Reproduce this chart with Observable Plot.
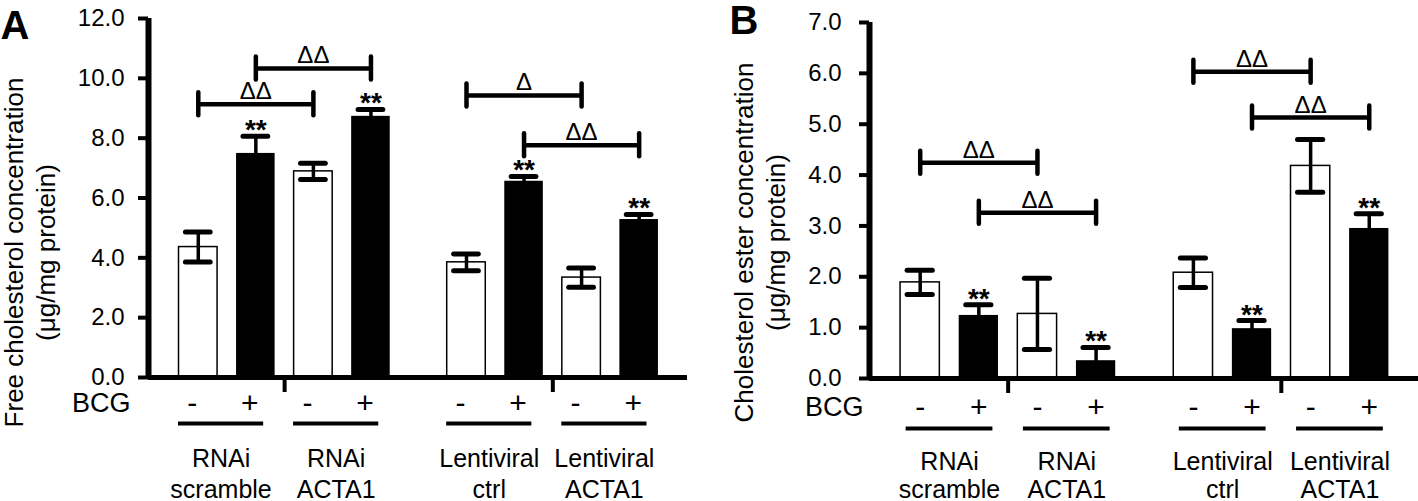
<!DOCTYPE html>
<html>
<head>
<meta charset="utf-8">
<script src="https://cdn.jsdelivr.net/npm/d3@7"></script>
<script src="https://cdn.jsdelivr.net/npm/@observablehq/plot@0.6"></script>
<style>
  body { margin: 0; background: #fff; }
  #wrap { display: flex; width: 1418px; height: 501px; }
  #wrap svg { font-family: "Liberation Sans", Arial, Helvetica, sans-serif; overflow: visible; }
</style>
</head>
<body>
<div id="wrap"></div>
<script>
// ---------- data ----------
const groupLabels = ["RNAi\nscramble", "RNAi\nACTA1", "Lentiviral\nctrl", "Lentiviral\nACTA1"];
const bcgSigns = ["-", "+", "-", "+", "-", "+", "-", "+"];
const stars = ["", "**", "", "**", "", "**", "", "**"];

// Panel A: free cholesterol (µg/mg protein)
const freeMean = [4.36, 7.49, 6.89, 8.73, 3.85, 6.56, 3.34, 5.28];
const freeErr  = [0.50, 0.57, 0.27, 0.23, 0.28, 0.16, 0.32, 0.17];
const freeBrFrom  = [0, 1, 4, 5];
const freeBrTo    = [2, 3, 6, 7];
const freeBrY     = [9.13, 10.33, 9.43, 7.76];
const freeBrLabel = ["ΔΔ", "ΔΔ", "Δ", "ΔΔ"];

// Panel B: cholesterol ester (µg/mg protein)
const esterMean = [1.89, 1.24, 1.27, 0.35, 2.08, 0.98, 4.18, 2.95];
const esterErr  = [0.24, 0.21, 0.70, 0.26, 0.29, 0.16, 0.52, 0.29];
const esterBrFrom  = [0, 1, 4, 5];
const esterBrTo    = [2, 3, 6, 7];
const esterBrY     = [4.24, 3.26, 6.03, 5.13];
const esterBrLabel = ["ΔΔ", "ΔΔ", "ΔΔ", "ΔΔ"];

// ---------- layout helpers ----------
const GAP = 0.66;      // extra space between the RNAi and Lentiviral halves
const HALF = 0.335;    // bar half width
const CAP = 0.215;     // error cap half width
const pos = i => i + (i >= 4 ? GAP : 0);

function panel(cfg) {
  const H = 501;
  const innerH = H - cfg.marginTop - cfg.marginBottom;
  const u = cfg.yMax / innerH; // data units per pixel
  const idx = d3.range(cfg.mean.length);
  const white = idx.filter(i => i % 2 === 0);
  const black = idx.filter(i => i % 2 === 1);
  const starIdx = idx.filter(i => stars[i]);
  const br = d3.range(cfg.brFrom.length);
  const dividers = [(pos(1) + pos(2)) / 2, (pos(5) + pos(6)) / 2];
  const gIdx = d3.range(groupLabels.length);
  const gCenter = g => (pos(2 * g) + pos(2 * g + 1)) / 2;
  const xDom = [-0.865, 8.5];

  return Plot.plot({
    width: 709, height: H,
    marginLeft: cfg.marginLeft, marginRight: cfg.marginRight,
    marginTop: cfg.marginTop, marginBottom: cfg.marginBottom,
    x: {type: "linear", domain: xDom, axis: null},
    y: {domain: [0, cfg.yMax]},
    marks: [
      // bars
      Plot.rect(white, {x1: i => pos(i) - HALF, x2: i => pos(i) + HALF, y1: 0, y2: i => cfg.mean[i],
        fill: "white", stroke: "black", strokeWidth: 1.5}),
      Plot.rect(black, {x1: i => pos(i) - HALF, x2: i => pos(i) + HALF, y1: 0, y2: i => cfg.mean[i],
        fill: "black"}),
      // error bars
      Plot.ruleX(idx, {x: i => pos(i), y1: i => cfg.mean[i] - cfg.err[i], y2: i => cfg.mean[i] + cfg.err[i],
        stroke: "black", strokeWidth: 3.5}),
      Plot.ruleY(idx, {x1: i => pos(i) - CAP, x2: i => pos(i) + CAP, y: i => cfg.mean[i] + cfg.err[i],
        stroke: "black", strokeWidth: 5, strokeLinecap: "round"}),
      Plot.ruleY(white, {x1: i => pos(i) - CAP, x2: i => pos(i) + CAP, y: i => cfg.mean[i] - cfg.err[i],
        stroke: "black", strokeWidth: 5, strokeLinecap: "round"}),
      // significance stars
      Plot.text(starIdx, {x: i => pos(i), y: i => cfg.mean[i] + cfg.err[i], text: i => stars[i],
        lineAnchor: "bottom", dy: 3, fontSize: 28, fontWeight: "bold", fill: "black"}),
      // brackets
      Plot.ruleY(br, {x1: j => pos(cfg.brFrom[j]), x2: j => pos(cfg.brTo[j]), y: j => cfg.brY[j],
        stroke: "black", strokeWidth: 4.5}),
      Plot.ruleX(br, {x: j => pos(cfg.brFrom[j]), y1: j => cfg.brY[j] - 11.5 * u, y2: j => cfg.brY[j] + 11.5 * u,
        stroke: "black", strokeWidth: 4.5, strokeLinecap: "round"}),
      Plot.ruleX(br, {x: j => pos(cfg.brTo[j]), y1: j => cfg.brY[j] - 11.5 * u, y2: j => cfg.brY[j] + 11.5 * u,
        stroke: "black", strokeWidth: 4.5, strokeLinecap: "round"}),
      Plot.text(br, {x: j => (pos(cfg.brFrom[j]) + pos(cfg.brTo[j])) / 2, y: j => cfg.brY[j], text: j => cfg.brLabel[j],
        lineAnchor: "bottom", dy: -5, fontSize: 24, fill: "black"}),
      // axes
      Plot.axisY({ticks: d3.range(0, cfg.yMax + 1e-9, cfg.yStep), tickFormat: d3.format(".1f"),
        tickSize: 10, tickPadding: cfg.tickPad, fontSize: 24, strokeWidth: 4, label: null, color: "black"}),
      Plot.ruleX([xDom[0]], {y1: 0, y2: cfg.yMax, stroke: "black", strokeWidth: 6}),
      Plot.ruleY([0], {stroke: "black", strokeWidth: 5}),
      // group dividers below the axis
      Plot.ruleX(dividers, {x: d => d, y1: 0, y2: -15 * u, stroke: "black", strokeWidth: 4}),
      // BCG row
      Plot.text(["BCG"], {frameAnchor: "bottom-left", text: d => d, dx: cfg.bcgDx, dy: cfg.rowDy,
        textAnchor: "end", lineAnchor: "middle", fontSize: 27, fill: "black"}),
      Plot.text(idx, {x: i => pos(i), frameAnchor: "bottom", text: i => bcgSigns[i], dx: cfg.shift, dy: cfg.rowDy,
        lineAnchor: "middle", fontSize: 30, fill: "black"}),
      Plot.ruleY(gIdx, {x1: g => gCenter(g) - 0.74, x2: g => gCenter(g) + 0.74, y: 0, dx: cfg.shift, dy: cfg.lineDy,
        stroke: "black", strokeWidth: 4}),
      Plot.text(gIdx, {x: gCenter, frameAnchor: "bottom", text: g => groupLabels[g], dx: cfg.shift, dy: cfg.labDy,
        lineAnchor: "middle", lineHeight: cfg.labLH, fontSize: 25, fill: "black"}),
      // y label and panel letter
      Plot.text([cfg.ylabel], {frameAnchor: "top-left", text: d => d, rotate: -90, dx: cfg.ylabDx, dy: cfg.ylabDy,
        textAnchor: "middle", lineAnchor: "middle", lineHeight: 1.23, fontSize: 26, fill: "black"}),
      Plot.text([cfg.letter], {frameAnchor: "top-left", text: d => d, dx: cfg.letterDx, dy: cfg.letterDy,
        textAnchor: "start", lineAnchor: "top", fontSize: 40, fontWeight: "bold", fill: "black"})
    ]
  });
}

const wrap = document.getElementById("wrap");
wrap.appendChild(panel({
  letter: "A", ylabel: "Free cholesterol concentration\n(μg/mg protein)",
  mean: freeMean, err: freeErr, brFrom: freeBrFrom, brTo: freeBrTo, brY: freeBrY, brLabel: freeBrLabel,
  yMax: 12, yStep: 2, marginLeft: 148, marginRight: 22, marginTop: 18, marginBottom: 124,
  tickPad: 14, bcgDx: -18, rowDy: 26, lineDy: 46, labDy: 94.6, labLH: 1.24, shift: -6,
  ylabDx: -120, ylabDy: 234, letterDx: -148, letterDy: -8
}));
wrap.appendChild(panel({
  letter: "B", ylabel: "Cholesterol ester concentration\n(μg/mg protein)",
  mean: esterMean, err: esterErr, brFrom: esterBrFrom, brTo: esterBrTo, brY: esterBrY, brLabel: esterBrLabel,
  yMax: 7, yStep: 1, marginLeft: 160, marginRight: 0, marginTop: 22, marginBottom: 123,
  tickPad: 18, bcgDx: -6, rowDy: 29, lineDy: 50, labDy: 97, labLH: 1.12, shift: 0,
  ylabDx: -111, ylabDy: 220, letterDx: -140, letterDy: -17
}));
</script>
</body>
</html>
